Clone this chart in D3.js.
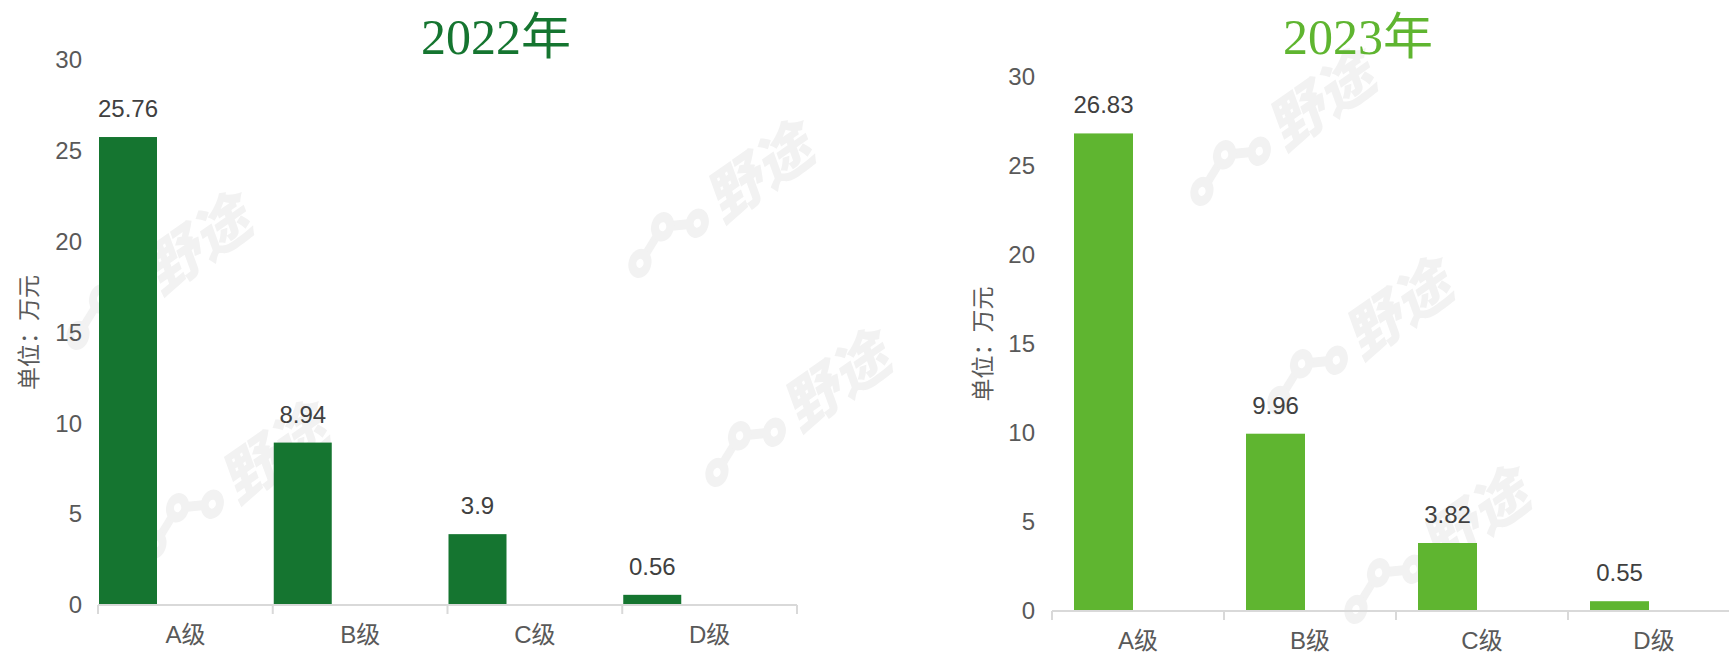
<!DOCTYPE html>
<html lang="zh">
<head>
    <meta charset="utf-8">
    <script src="https://d3js.org/d3.v7.min.js"></script>
    <style>
        body { margin: 0; background: #fff; }
        svg { display: block; }
    </style>
</head>
<body>
    <script type="text/javascript">

        let w = 1729;
        let h = 654;

        // data
        let categories = ["A级", "B级", "C级", "D级"];
        let values2022 = [25.76, 8.94, 3.9, 0.56];
        let values2023 = [26.83, 9.96, 3.82, 0.55];
        let yTicks = [0, 5, 10, 15, 20, 25, 30];
        let titles = ["2022年", "2023年"];
        let unitLabel = "单位：万元";

        let svg = d3.select("body").append("svg")
                    .attr("width", w)
                    .attr("height", h);

        // faint watermark tiles behind the charts (only whole ones, kept inside the picture)
        let wm = svg.append("g").attr("class", "watermark");
        let base = [154, 276];
        let va = [562, -72], vb = [77, 209];
        for (let i = -2; i <= 3; i++) {
            for (let j = -2; j <= 3; j++) {
                let cx = base[0] + i * va[0] + j * vb[0];
                let cy = base[1] + i * va[1] + j * vb[1];
                if (cx < 110 || cx > w - 120 || cy < 80 || cy > h - 40) continue;
                let g = wm.append("g")
                    .attr("transform", "translate(" + cx + "," + cy + ") rotate(-35) skewX(-15)")
                    .attr("fill", "#f2f2f2")
                    .attr("stroke", "#f2f2f2");
                // chain logo
                g.append("line").attr("x1", -95).attr("y1", 5).attr("x2", -60).attr("y2", -12).attr("stroke-width", 9);
                g.append("line").attr("x1", -60).attr("y1", -12).attr("x2", -25).attr("y2", 5).attr("stroke-width", 9);
                [[-95, 5], [-60, -12], [-25, 5]].forEach(function (p) {
                    g.append("circle").attr("cx", p[0]).attr("cy", p[1]).attr("r", 13).attr("stroke", "none");
                    g.append("circle").attr("cx", p[0]).attr("cy", p[1]).attr("r", 4).attr("fill", "#fff").attr("stroke", "none");
                });
                g.append("text")
                    .attr("x", 0).attr("y", 20)
                    .attr("stroke", "none")
                    .style("font-family", "'Noto Sans CJK SC', sans-serif")
                    .style("font-weight", "900")
                    .style("font-size", "58px")
                    .text("野途");
            }
        }

        let panels = [
            { title: titles[0], values: values2022, color: "#157530",
              x0: 98, x1: 797, yTop: 60, yBottom: 605, barOffset: 1, barW: 58,
              tickX: 82, titleX: 496, unitX: 27 },
            { title: titles[1], values: values2023, color: "#5fb530",
              x0: 1052, x1: 1740, yTop: 77, yBottom: 611, barOffset: 22, barW: 59,
              tickX: 1035, titleX: 1358, unitX: 981 }
        ];

        panels.forEach(function (p) {
            let g = svg.append("g");

            let x = d3.scaleBand()
                        .domain(categories)
                        .range([p.x0, p.x1])
                        .paddingInner(0)
                        .paddingOuter(0);

            let y = d3.scaleLinear()
                        .domain([0, 30])
                        .range([p.yBottom, p.yTop]);

            // title
            g.append("text")
                .attr("x", p.titleX)
                .attr("y", 54)
                .attr("text-anchor", "middle")
                .attr("fill", p.color)
                .style("font-family", "'Liberation Serif', 'Noto Sans CJK SC', serif")
                .style("font-size", "50px")
                .text(p.title);

            // y axis (labels only)
            let yAxis = g.append("g")
                .attr("transform", "translate(" + p.tickX + ",0)")
                .call(d3.axisLeft(y).tickValues(yTicks).tickSize(0).tickPadding(0));
            yAxis.select(".domain").remove();
            yAxis.selectAll("text")
                .attr("fill", "#595959")
                .style("font-family", "'Liberation Sans', Arial, sans-serif")
                .style("font-size", "24px");

            // unit label
            g.append("text")
                .attr("transform", "translate(" + p.unitX + "," + ((p.yTop + p.yBottom) / 2) + ") rotate(-90)")
                .attr("text-anchor", "middle")
                .attr("dominant-baseline", "central")
                .attr("fill", "#595959")
                .style("font-family", "'Noto Sans CJK SC', sans-serif")
                .style("font-size", "23px")
                .text(unitLabel);

            // bars
            g.selectAll("rect.bar")
                .data(p.values)
                .join("rect")
                    .attr("class", "bar")
                    .attr("x", function (d, i) { return x(categories[i]) + p.barOffset; })
                    .attr("y", function (d) { return y(d); })
                    .attr("width", p.barW)
                    .attr("height", function (d) { return y(0) - y(d); })
                    .attr("fill", p.color);

            // value labels
            g.selectAll("text.val")
                .data(p.values)
                .join("text")
                    .attr("class", "val")
                    .attr("x", function (d, i) { return x(categories[i]) + p.barOffset + p.barW / 2; })
                    .attr("y", function (d) { return y(d) - 20; })
                    .attr("text-anchor", "middle")
                    .attr("fill", "#404040")
                    .style("font-family", "'Liberation Sans', Arial, sans-serif")
                    .style("font-size", "24px")
                    .text(function (d) { return d; });

            // x axis line and boundary ticks
            g.append("line")
                .attr("x1", p.x0).attr("x2", p.x1)
                .attr("y1", y(0)).attr("y2", y(0))
                .attr("stroke", "#d9d9d9")
                .attr("stroke-width", 2);
            let bounds = categories.map(function (c) { return x(c); }).concat([p.x1]);
            g.selectAll("line.tk")
                .data(bounds)
                .join("line")
                    .attr("class", "tk")
                    .attr("x1", function (d) { return d; })
                    .attr("x2", function (d) { return d; })
                    .attr("y1", y(0))
                    .attr("y2", y(0) + 9)
                    .attr("stroke", "#d9d9d9")
                    .attr("stroke-width", 2);

            // category labels
            let xAxis = g.append("g")
                .attr("transform", "translate(0," + y(0) + ")")
                .call(d3.axisBottom(x).tickSize(0).tickPadding(21));
            xAxis.select(".domain").remove();
            xAxis.selectAll("text")
                .attr("fill", "#595959")
                .style("font-family", "'Liberation Sans', 'Noto Sans CJK SC', sans-serif")
                .style("font-size", "24px");
        });

    </script>
</body>
</html>
